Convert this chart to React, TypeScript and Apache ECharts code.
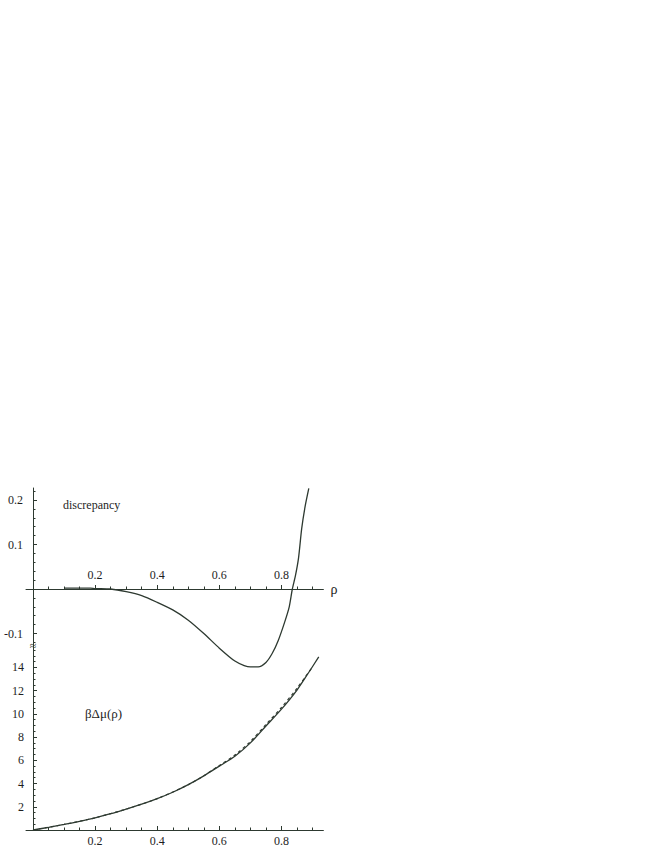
import React, { useEffect, useRef } from "react";
import * as echarts from "echarts";

// ---- data ----
// upper panel: discrepancy
const discRho = [0.1, 0.15, 0.185, 0.2, 0.25, 0.3, 0.35, 0.4, 0.45, 0.5, 0.55, 0.6, 0.65, 0.68, 0.7, 0.725, 0.75, 0.77, 0.79, 0.81, 0.825, 0.835, 0.845, 0.855, 0.865, 0.876, 0.888];
const discValues = [0.002, 0.002, 0.002, 0.001, 0, -0.006, -0.015, -0.03, -0.047, -0.07, -0.1, -0.133, -0.162, -0.172, -0.175, -0.175, -0.165, -0.145, -0.115, -0.075, -0.04, 0, 0.03, 0.07, 0.135, 0.185, 0.226];

// lower panel: beta * delta mu (solid) and its approximation (dashed)
const muRho = [0, 0.05, 0.1, 0.15, 0.2, 0.25, 0.3, 0.35, 0.4, 0.45, 0.5, 0.55, 0.6, 0.65, 0.7, 0.75, 0.8, 0.85, 0.885, 0.92];
const muValues = [0, 0.23, 0.48, 0.75, 1.05, 1.4, 1.8, 2.22, 2.7, 3.25, 3.9, 4.66, 5.5, 6.35, 7.5, 8.95, 10.4, 12.05, 13.45, 14.9];
const approxRho = [0, 0.1, 0.2, 0.3, 0.4, 0.5, 0.55, 0.6, 0.65, 0.7, 0.75, 0.8, 0.85, 0.9];
const approxValues = [0, 0.48, 1.05, 1.8, 2.7, 3.9, 4.67, 5.55, 6.45, 7.62, 9.08, 10.55, 12.2, 14.05];

// ticks
const rhoMajor = [0.2, 0.4, 0.6, 0.8];
const rhoMinorStep = 0.05;
const discMajorUpper = [0.1, 0.2];
const discMajorLower = [-0.1];
const discMinorStep = 0.02;
const muMajor = [2, 4, 6, 8, 10, 12, 14];
const muMinorStep = 0.5;

const X_MIN = -0.0225;
const X_MAX = 0.935;
const DISC_MIN = -0.128;
const DISC_MAX = 0.227;
const MU_MIN = 0;
const MU_MAX = 15.84;

const FONT = "Liberation Serif, Times New Roman, serif";
const INK = "#2d3930";
const TEXT = "#1e1e1e";

// layout
const LEFT = 26;
const WIDTH = 297.4;
const Y_AXIS_SHIFT = -7; // y axis sits at rho = 0, 7px right of the grid edge
const TOP = 488;
const ZERO_Y = 589;
const BREAK_Y = 646;
const BOTTOM_Y = 832.3;

function minorTicks(min: number, max: number, step: number, major: number[]) {
  const out: number[] = [];
  const start = Math.ceil(min / step - 1e-9);
  const end = Math.floor(max / step + 1e-9);
  for (let i = start; i <= end; i++) {
    const v = Math.round(i * step * 1000) / 1000;
    if (!major.some((m) => Math.abs(m - v) < 1e-6)) out.push(v);
  }
  return out;
}

const zip = (xs: number[], ys: number[]) => xs.map((x, i) => [x, ys[i]]);

export default function App() {
  const ref = useRef<HTMLDivElement>(null);

  useEffect(() => {
    if (!ref.current) return;
    const chart = echarts.init(ref.current, undefined, { renderer: "svg" });

    const labelStyle = { fontFamily: FONT, fontSize: 12, color: TEXT };

    const majorX = (gridIndex: number, top: boolean) => ({
      type: "value",
      gridIndex,
      min: X_MIN,
      max: X_MAX,
      position: "bottom",
      axisLine: { show: true, onZero: false, lineStyle: { color: INK, width: 1 } },
      axisTick: { show: true, customValues: rhoMajor, inside: true, length: 4, lineStyle: { color: INK } },
      axisLabel: { show: true, customValues: rhoMajor, inside: top, margin: top ? 8 : 5, ...labelStyle },
      splitLine: { show: false },
      name: top ? "ρ" : "",
      nameLocation: "end",
      nameGap: 7,
      nameTextStyle: { fontFamily: FONT, fontSize: 14, color: TEXT },
    });
    const minorX = (gridIndex: number) => ({
      type: "value",
      gridIndex,
      min: X_MIN,
      max: X_MAX,
      position: "bottom",
      axisLine: { show: false, onZero: false },
      axisTick: { show: true, customValues: minorTicks(0, X_MAX, rhoMinorStep, [0, ...rhoMajor]), inside: true, length: 2.5, lineStyle: { color: INK } },
      axisLabel: { show: false },
      splitLine: { show: false },
    });
    const hiddenX = (gridIndex: number) => ({
      type: "value",
      gridIndex,
      min: X_MIN,
      max: X_MAX,
      show: false,
      axisLine: { onZero: false },
      splitLine: { show: false },
    });
    const majorY = (gridIndex: number, min: number, max: number, major: number[], margin: number) => ({
      type: "value",
      gridIndex,
      min,
      max,
      position: "left",
      offset: Y_AXIS_SHIFT,
      axisLine: { show: true, onZero: false, lineStyle: { color: INK, width: 1 } },
      axisTick: { show: true, customValues: major, inside: true, length: 4, lineStyle: { color: INK } },
      axisLabel: { show: true, customValues: major, margin, ...labelStyle },
      splitLine: { show: false },
    });
    const minorY = (gridIndex: number, min: number, max: number, step: number, major: number[]) => ({
      type: "value",
      gridIndex,
      min,
      max,
      position: "left",
      offset: Y_AXIS_SHIFT,
      axisLine: { show: false, onZero: false },
      axisTick: { show: true, customValues: minorTicks(min, max, step, [0, ...major]), inside: true, length: 2.5, lineStyle: { color: INK } },
      axisLabel: { show: false },
      splitLine: { show: false },
    });

    chart.setOption({
      animation: false,
      backgroundColor: "#ffffff",
      textStyle: { fontFamily: FONT },
      grid: [
        { left: LEFT, top: TOP, width: WIDTH, height: ZERO_Y - TOP },
        { left: LEFT, top: ZERO_Y, width: WIDTH, height: BREAK_Y - ZERO_Y },
        { left: LEFT, top: BREAK_Y, width: WIDTH, height: BOTTOM_Y - BREAK_Y },
      ],
      xAxis: [majorX(0, true), minorX(0), hiddenX(1), majorX(2, false), minorX(2)],
      yAxis: [
        majorY(0, 0, DISC_MAX, discMajorUpper, 10),
        minorY(0, 0, DISC_MAX, discMinorStep, discMajorUpper),
        majorY(1, DISC_MIN, 0, discMajorLower, 10),
        minorY(1, DISC_MIN, 0, discMinorStep, discMajorLower),
        majorY(2, MU_MIN, MU_MAX, muMajor, 9),
        minorY(2, MU_MIN, MU_MAX, muMinorStep, muMajor),
      ],
      series: [
        {
          name: "discrepancy",
          type: "line",
          xAxisIndex: 0,
          yAxisIndex: 0,
          data: zip(discRho, discValues),
          showSymbol: false,
          symbol: "none",
          smooth: 0.25,
          clip: false,
          lineStyle: { color: INK, width: 1.3 },
          z: 5,
        },
        {
          name: "approx",
          type: "line",
          xAxisIndex: 3,
          yAxisIndex: 4,
          data: zip(approxRho, approxValues),
          showSymbol: false,
          symbol: "none",
          smooth: 0.3,
          clip: false,
          lineStyle: { color: INK, width: 1.2, type: [3, 3] },
          z: 4,
        },
        {
          name: "mu",
          type: "line",
          xAxisIndex: 3,
          yAxisIndex: 4,
          data: zip(muRho, muValues),
          showSymbol: false,
          symbol: "none",
          smooth: 0.3,
          clip: false,
          lineStyle: { color: INK, width: 1.3 },
          z: 5,
        },
      ],
      graphic: [
        {
          type: "text",
          x: 63,
          y: 505,
          style: { text: "discrepancy", fontFamily: FONT, fontSize: 12, fill: TEXT, textVerticalAlign: "middle" },
        },
        {
          type: "text",
          x: 85,
          y: 713,
          style: { text: "βΔμ(ρ)", fontFamily: FONT, fontSize: 13, fill: TEXT, textVerticalAlign: "middle" },
        },
        {
          type: "text",
          x: LEFT - Y_AXIS_SHIFT,
          y: BREAK_Y,
          z: 10,
          style: { text: "≈", fontFamily: FONT, fontSize: 12, fill: INK, textAlign: "center", textVerticalAlign: "middle" },
        },
      ],
    });

    return () => chart.dispose();
  }, []);

  return (
    <div
      ref={ref}
      style={{ position: "absolute", left: 0, top: 0, width: 655, height: 847, background: "#fff" }}
    />
  );
}
